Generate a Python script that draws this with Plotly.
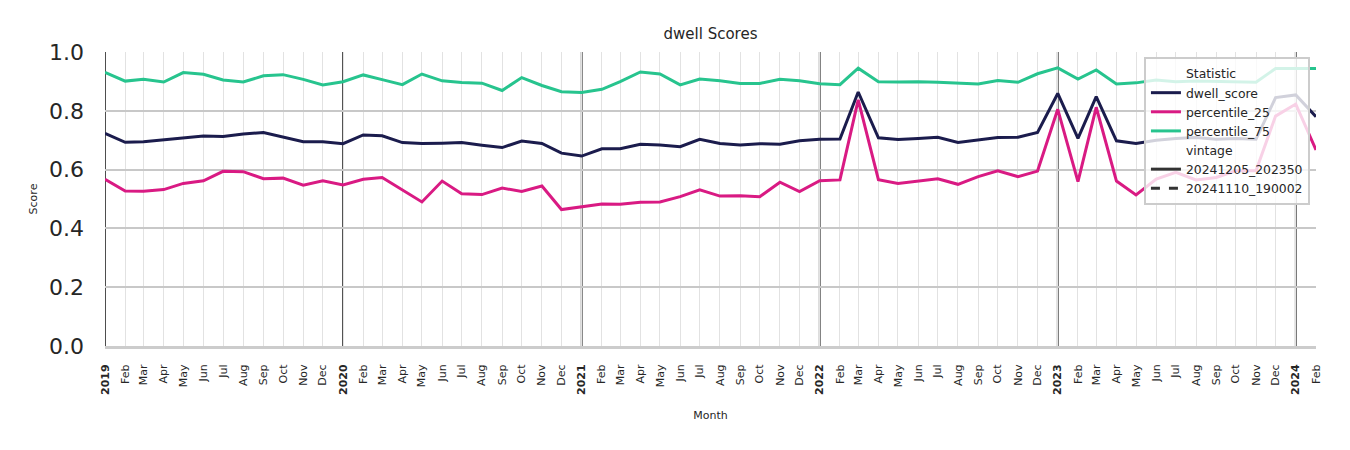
import pandas as pd
import plotly.graph_objects as go

# monthly values, Jan 2019 .. Feb 2024
months = pd.date_range('2019-01-01', '2024-02-01', freq='MS')

dwell_score = [
    0.723, 0.693, 0.695, 0.701, 0.707, 0.714, 0.713, 0.721, 0.726, 0.712, 0.695, 0.695,
    0.688, 0.718, 0.715, 0.692, 0.689, 0.690, 0.692, 0.683, 0.675, 0.697, 0.689, 0.656,
    0.646, 0.671, 0.671, 0.686, 0.684, 0.678, 0.703, 0.689, 0.684, 0.688, 0.686, 0.698,
    0.703, 0.704, 0.864, 0.708, 0.702, 0.706, 0.710, 0.692, 0.701, 0.709, 0.710, 0.726,
    0.859, 0.706, 0.848, 0.698, 0.689, 0.700, 0.706, 0.709, 0.703, 0.706, 0.703, 0.845,
    0.854, 0.780,
]
percentile_25 = [
    0.567, 0.527, 0.526, 0.532, 0.553, 0.562, 0.594, 0.593, 0.569, 0.571, 0.547, 0.562,
    0.548, 0.567, 0.573, 0.531, 0.490, 0.561, 0.518, 0.515, 0.537, 0.526, 0.544, 0.464,
    0.473, 0.483, 0.482, 0.489, 0.490, 0.508, 0.531, 0.510, 0.511, 0.508, 0.557, 0.525,
    0.562, 0.565, 0.837, 0.566, 0.553, 0.562, 0.569, 0.550, 0.576, 0.596, 0.576, 0.595,
    0.805, 0.559, 0.812, 0.561, 0.514, 0.568, 0.591, 0.565, 0.573, 0.596, 0.596, 0.782,
    0.823, 0.667,
]
percentile_75 = [
    0.931, 0.901, 0.907, 0.898, 0.930, 0.924, 0.905, 0.898, 0.919, 0.923, 0.907, 0.888,
    0.899, 0.922, 0.906, 0.889, 0.925, 0.902, 0.896, 0.894, 0.869, 0.913, 0.886, 0.865,
    0.862, 0.873, 0.899, 0.932, 0.925, 0.888, 0.908, 0.902, 0.893, 0.893, 0.907, 0.902,
    0.892, 0.889, 0.945, 0.899, 0.898, 0.899, 0.897, 0.893, 0.891, 0.903, 0.897, 0.926,
    0.946, 0.908, 0.939, 0.891, 0.895, 0.905, 0.899, 0.901, 0.899, 0.897, 0.897, 0.944,
    0.944, 0.944,
]

series = {'dwell_score': (dwell_score, '#1b1c4d'),
          'percentile_25': (percentile_25, '#d91a83'),
          'percentile_75': (percentile_75, '#27c48e')}
vintages = {'20241205_202350': 'solid', '20241110_190002': 'dash'}

tick_vals = [d.strftime('%Y-%m-%d') for d in months]
tick_text = ['<b>%d</b>' % d.year if d.month == 1 else d.strftime('%b') for d in months]

fig = go.Figure()


def header(label):
    # legend sub-heading with no visible symbol
    fig.add_trace(go.Scatter(x=[None], y=[None], mode='lines', name=label,
                             line=dict(color='rgba(0,0,0,0)')))


header('Statistic')
for name, (vals, color) in series.items():
    fig.add_trace(go.Scatter(x=tick_vals, y=vals, mode='lines', name=name,
                             line=dict(color=color, width=3)))
header('vintage')
for name, dash in vintages.items():
    fig.add_trace(go.Scatter(x=[None], y=[None], mode='lines', name=name,
                             line=dict(color='#333333', width=3, dash=dash)))

for d in months:
    if d.month == 1:
        fig.add_vline(x=d.strftime('%Y-%m-%d'), line=dict(color='#3a3a3a', width=1.8), layer='below')

# page body adds an 8px offset, margins compensate for it
fig.update_layout(
    width=1350, height=450,
    margin=dict(l=97, r=42, t=44, b=112),
    paper_bgcolor='white', plot_bgcolor='white',
    font=dict(family='DejaVu Sans', color='#262626'),
    title=dict(text='dwell Scores', x=0.5, xref='paper', y=1 - 26 / 450, yanchor='middle',
               font=dict(size=15, color='#262626')),
    legend=dict(x=0.995, y=0.983, xanchor='right', yanchor='top',
                bgcolor='rgba(255,255,255,0.8)', bordercolor='#cccccc', borderwidth=2,
                font=dict(size=12.4, color='#262626'), tracegroupgap=0),
)
fig.update_xaxes(
    type='date',
    range=[tick_vals[0], tick_vals[-1]], tickmode='array', tickvals=tick_vals, ticktext=tick_text,
    tickangle=-90, tickfont=dict(size=11, color='#262626'), ticklabelstandoff=11,
    showgrid=True, gridcolor='#e2e2e2', gridwidth=1,
    showline=True, linecolor='#cccccc', linewidth=3,
    title=dict(text='Month', font=dict(size=11), standoff=18),
)
fig.update_yaxes(
    range=[0, 1], tickvals=[0, 0.2, 0.4, 0.6, 0.8, 1.0], tickformat='.1f',
    tickfont=dict(size=22, color='#262626'), ticklabelstandoff=20,
    showgrid=True, gridcolor='#c8c8c8', gridwidth=2, zeroline=False,
    title=dict(text='Score', font=dict(size=11), standoff=9),
)
fig.write_html('out.html')
